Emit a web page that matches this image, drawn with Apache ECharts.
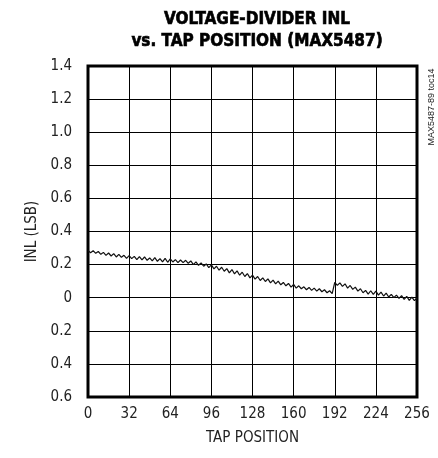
<!DOCTYPE html>
<html><head><meta charset="utf-8">
<script src="https://cdn.jsdelivr.net/npm/echarts@6/dist/echarts.min.js"></script>
<style>html,body{margin:0;padding:0;background:#fff}#c{width:438px;height:458px}</style>
</head><body><div id="c"></div>
<script>
var taps = [];
for (var t = 0; t <= 256; t += 2) taps.push(t);
var inl = [
0.285,0.272,0.284,0.268,0.279,0.262,0.274,0.256,0.270,0.252,
0.266,0.246,0.262,0.244,0.256,0.238,0.254,0.236,0.250,0.230,
0.248,0.228,0.246,0.226,0.240,0.222,0.242,0.220,0.236,0.216,
0.238,0.214,0.234,0.216,0.230,0.212,0.228,0.212,0.226,0.208,
0.222,0.200,0.216,0.196,0.210,0.190,0.204,0.182,0.198,0.174,
0.190,0.166,0.184,0.160,0.176,0.150,0.170,0.144,0.162,0.136,
0.154,0.128,0.146,0.120,0.136,0.112,0.128,0.104,0.120,0.098,
0.114,0.090,0.106,0.084,0.100,0.078,0.092,0.072,0.086,0.064,
0.080,0.058,0.072,0.054,0.066,0.048,0.062,0.044,0.058,0.040,
0.054,0.036,0.048,0.030,0.042,0.024,0.092,0.074,0.090,0.068,
0.084,0.058,0.074,0.050,0.064,0.040,0.054,0.030,0.044,0.022,
0.042,0.020,0.040,0.016,0.034,0.010,0.028,0.004,0.020,0.000,
0.016,-0.004,0.012,-0.010,0.008,-0.016,0.004,-0.018,-0.002
];
var xTicks = [0,32,64,96,128,160,192,224,256];
var yTickLabels = ['0.6','0.4','0.2','0','0.2','0.4','0.6','0.8','1.0','1.2','1.4'];
var titleLines = ['VOLTAGE-DIVIDER INL','vs. TAP POSITION (MAX5487)'];
var xName = 'TAP POSITION', yName = 'INL (LSB)', sideNote = 'MAX5487-89 toc14';

var data = taps.map(function(x,i){return [x, inl[i]];});
var font = '"Liberation Sans Narrow","DejaVu Sans Condensed",sans-serif';
var chart = echarts.init(document.getElementById('c'));
chart.setOption({
  animation:false,
  title:{text:titleLines.join('\n'), left:252, top:4, textAlign:'center',
    textStyle:{fontFamily:font, fontWeight:'bold', fontSize:17, lineHeight:22, color:'#000',
      textBorderColor:'#000', textBorderWidth:0.6}},
  grid:{left:88, right:21, top:66, bottom:61, show:true, borderColor:'#000', borderWidth:3, backgroundColor:'#fff'},
  xAxis:{type:'value', min:0, max:256, interval:32,
    name:xName, nameLocation:'middle', nameGap:34,
    nameTextStyle:{fontFamily:font, fontSize:15, color:'#222'},
    axisLine:{show:false}, axisTick:{show:false},
    axisLabel:{fontFamily:font, fontSize:15, color:'#222', margin:10,
      formatter:function(v){return xTicks.indexOf(v)>=0 ? String(v) : '';}},
    splitLine:{show:true, lineStyle:{color:'#000', width:1}}},
  yAxis:{type:'value', min:-0.6, max:1.4, interval:0.2,
    name:yName, nameLocation:'middle', nameGap:44, nameRotate:90,
    nameTextStyle:{fontFamily:font, fontSize:15, color:'#222'},
    axisLine:{show:false}, axisTick:{show:false},
    axisLabel:{fontFamily:font, fontSize:15, color:'#222', margin:16,
      formatter:function(v){return yTickLabels[Math.round((v+0.6)/0.2)];}},
    splitLine:{show:true, lineStyle:{color:'#000', width:1}}},
  graphic:[{type:'text', x:432, y:107, rotation:Math.PI/2,
    style:{text:sideNote, fontFamily:'"Liberation Sans",Arial,sans-serif', fontSize:9, fill:'#222',
      textAlign:'center', textVerticalAlign:'middle'}}],
  series:[{type:'line', data:data, symbol:'none', smooth:false,
    lineStyle:{color:'#111', width:1.2}}]
});
</script></body></html>
